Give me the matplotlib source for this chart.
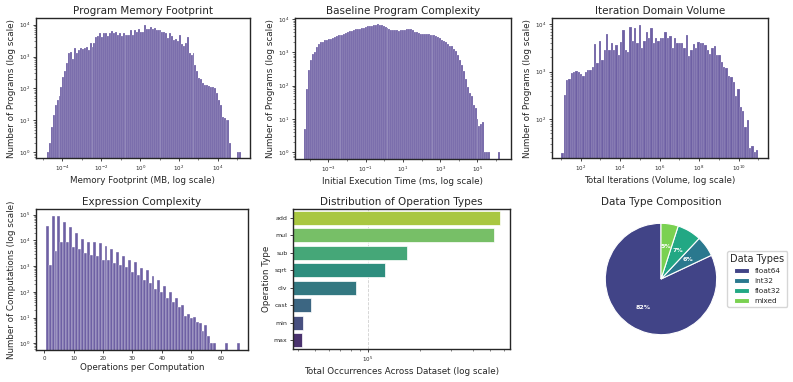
import numpy as np
import matplotlib
matplotlib.use("Agg")
import matplotlib.pyplot as plt
import matplotlib.ticker as mticker
import seaborn as sns

# ---- values ----
# Program memory footprint: counts per log bin (log10 MB from -4.8 to 5.19)
mem_counts = [1, 2, 6, 15, 30, 42, 57, 110, 230, 350,
              630, 1300, 1400, 830, 1900, 1300, 1600, 1900, 1700, 1800,
              2000, 1600, 2700, 2000, 2700, 4000, 4300, 5300, 4000, 5300,
              5600, 4300, 5300, 6300, 5300, 6100, 4600, 5300, 4300, 5300,
              4800, 4600, 4800, 6600, 4800, 6900, 5900, 7300, 5900, 5900,
              10000, 7300, 7300, 8200, 7300, 7800, 6900, 6600, 6600, 5900,
              5900, 5300, 3900, 5300, 4300, 3400, 3600, 3000, 4800, 2400,
              2100, 2700, 4000, 1300, 1100, 1300, 560, 350, 210, 200,
              150, 130, 125, 120, 115, 110, 100, 72, 45, 31,
              13, 12, 10, 10, 2, 0, 0, 0, 1, 1]
mem_range = (-4.8, 5.19)

# Baseline execution time: counts per log bin (log10 ms from -4.29 to 6.21)
time_counts = [5, 80, 300, 600, 900, 1000, 1400, 1800, 2000, 2100,
               2300, 2400, 2500, 2600, 2700, 2900, 3000, 3200, 3300, 3400,
               3500, 3700, 4100, 4300, 4500, 4700, 4900, 5000, 5100, 5200,
               5500, 5700, 6000, 6100, 6300, 6600, 6800, 6900, 6700, 6500,
               6000, 5700, 5300, 5000, 4800, 4700, 4600, 4600, 4500, 4800,
               4700, 4600, 4900, 5000, 4900, 4600, 4200, 4000, 3800, 3600,
               3500, 3500, 3600, 3500, 3400, 3300, 3200, 3100, 2900, 2700,
               2400, 2200, 2000, 1800, 1600, 1500, 1300, 1100, 850, 600,
               420, 270, 160, 90, 60, 48, 27, 21, 10, 6,
               7, 8, 1, 1, 1, 0, 0, 0, 0, 1]
time_range = (-4.29, 6.21)

# Iteration domain volume: counts per log bin (log10 iterations from 1.02 to 11.0)
iter_counts = [19, 320, 660, 700, 950, 1000, 1050, 1000, 900, 810,
               1000, 1100, 1100, 1270, 3800, 1550, 4500, 1750, 2900, 6200,
               2900, 4000, 2900, 3700, 2200, 4200, 7400, 2900, 2600, 8700,
               4500, 8200, 4000, 9700, 3200, 4500, 6900, 5200, 8200, 4000,
               5000, 4500, 5000, 5200, 7000, 5000, 5500, 3200, 5000, 4000,
               4000, 4000, 3200, 5800, 2100, 2900, 3800, 3100, 4300, 4000,
               4000, 3600, 2900, 2400, 3100, 3400, 2200, 2200, 1600, 1270,
               1170, 810, 760, 610, 300, 440, 180, 150, 67, 95,
               25, 27, 20, 22]
iter_range = (1.02, 11.0)

# Expression complexity: operations per computation 1..66
ops_per_comp = list(range(1, 67))
ops_counts = [37000, 1100, 87000, 4000, 87000, 8300, 52000, 8900, 33000, 5500,
              20000, 4500, 11000, 3200, 9000, 2800, 8500, 2500, 7900, 1800,
              5800, 1700, 4700, 1300, 3400, 1100, 2500, 900, 1700, 570,
              1400, 460, 870, 290, 720, 230, 400, 130, 280, 100,
              170, 60, 100, 40, 60, 25, 30, 12, 14, 10,
              11, 7, 6, 3, 5, 2, 1, 1, 0, 0,
              0, 1, 0, 0, 0, 1]

# Operation types
op_names = ["add", "mul", "sub", "sqrt", "div", "cast", "min", "max"]
op_totals = [573000, 530000, 168000, 126000, 86000, 47200, 42800, 42400]

# Data type composition (%)
dtype_names = ["float64", "int32", "float32", "mixed"]
dtype_share = [82, 6, 7, 5]

# ---- style ----
sns.set_theme(style="ticks")
plt.rcParams.update({
    "font.family": ["DejaVu Sans"],
    "axes.edgecolor": "#262626",
    "axes.linewidth": 1.0,
    "axes.titlesize": 7.5,
    "axes.titlepad": 3,
    "axes.labelsize": 6.3,
    "axes.labelpad": 2,
    "xtick.labelsize": 4,
    "ytick.labelsize": 4,
    "xtick.major.size": 2.5,
    "ytick.major.size": 2.5,
    "xtick.minor.size": 1.5,
    "ytick.minor.size": 1.5,
    "xtick.major.width": 0.6,
    "ytick.major.width": 0.6,
    "xtick.minor.width": 0.4,
    "ytick.minor.width": 0.4,
    "xtick.major.pad": 1.5,
    "ytick.major.pad": 1.5,
    "text.color": "#262626",
    "axes.labelcolor": "#262626",
})

BAR = "#5a4a98"
W, H = 793, 382


def px_axes(fig, left, top, right, bottom):
    return fig.add_axes([left / W, 1 - bottom / H, (right - left) / W, (bottom - top) / H])


def log_hist(ax, counts, rng, title, xlabel, ylabel, xlim, ylim, xticks, yticks):
    edges = np.logspace(rng[0], rng[1], len(counts) + 1)
    ax.bar(edges[:-1], counts, width=np.diff(edges), align="edge",
           color=BAR, alpha=0.88, edgecolor="white", linewidth=0.15)
    ax.set_xscale("log")
    ax.set_yscale("log")
    ax.set_xlim(10.0 ** xlim[0], 10.0 ** xlim[1])
    ax.set_ylim(10.0 ** ylim[0], 10.0 ** ylim[1])
    ax.set_xticks(xticks)
    ax.xaxis.set_minor_locator(mticker.LogLocator(base=10, subs=(1.0,), numticks=30))
    ax.xaxis.set_minor_formatter(mticker.NullFormatter())
    ax.set_yticks(yticks)
    ax.yaxis.set_minor_locator(mticker.LogLocator(base=10, subs=np.arange(2, 10), numticks=30))
    ax.yaxis.set_minor_formatter(mticker.NullFormatter())
    ax.set_title(title)
    ax.set_xlabel(xlabel)
    ax.set_ylabel(ylabel)


fig = plt.figure(figsize=(W / 100, H / 100), dpi=100)

ax1 = px_axes(fig, 36, 18, 250, 158)
log_hist(ax1, mem_counts, mem_range, "Program Memory Footprint",
         "Memory Footprint (MB, log scale)", "Number of Programs (log scale)",
         (-5.36, 5.65), (-0.18, 4.21), 10.0 ** np.arange(-4, 5, 2), 10.0 ** np.arange(0, 5))

ax2 = px_axes(fig, 295, 18, 511, 159)
log_hist(ax2, time_counts, time_range, "Baseline Program Complexity",
         "Initial Execution Time (ms, log scale)", "Number of Programs (log scale)",
         (-4.79, 6.80), (-0.2, 4.03), 10.0 ** np.arange(-3, 6, 2), 10.0 ** np.arange(0, 5))

ax3 = px_axes(fig, 552, 18, 768, 158)
log_hist(ax3, iter_counts, iter_range, "Iteration Domain Volume",
         "Total Iterations (Volume, log scale)", "Number of Programs (log scale)",
         (0.55, 11.49), (1.18, 4.13), 10.0 ** np.arange(2, 11, 2), 10.0 ** np.arange(2, 5))

# Expression complexity
ax4 = px_axes(fig, 36, 209, 248, 350)
ax4.bar(ops_per_comp, ops_counts, width=1.0, color=BAR, alpha=0.88,
        edgecolor="white", linewidth=0.3)
ax4.set_yscale("log")
ax4.set_xlim(-2.8, 69.3)
ax4.set_ylim(0.55, 1.66e5)
ax4.set_xticks(np.arange(0, 61, 10))
ax4.set_yticks(10.0 ** np.arange(0, 6))
ax4.yaxis.set_minor_locator(mticker.LogLocator(base=10, subs=np.arange(2, 10), numticks=30))
ax4.yaxis.set_minor_formatter(mticker.NullFormatter())
ax4.set_title("Expression Complexity")
ax4.set_xlabel("Operations per Computation")
ax4.set_ylabel("Number of Computations (log scale)")

# Operation types
ax5 = px_axes(fig, 293, 209, 510, 349)
op_colors = [sns.desaturate(c, 0.75) for c in sns.color_palette("viridis_r", len(op_names))]
ax5.barh(np.arange(len(op_names)), op_totals, height=0.8, left=1,
         color=op_colors, edgecolor="white", linewidth=0.5, zorder=2)
ax5.set_xscale("log")
ax5.set_xlim(3.75e4, 6.5e5)
ax5.set_ylim(len(op_names) - 0.5, -0.5)
ax5.set_yticks(np.arange(len(op_names)))
ax5.set_yticklabels(op_names)
ax5.tick_params(axis="y", labelsize=4.5)
ax5.xaxis.set_minor_formatter(mticker.NullFormatter())
ax5.grid(axis="x", which="major", linestyle="--", color="#d0d0d0", linewidth=0.6, zorder=0)
ax5.set_axisbelow(True)
ax5.set_title("Distribution of Operation Types")
ax5.set_xlabel("Total Occurrences Across Dataset (log scale)")
ax5.set_ylabel("Operation Type")

# Data type pie
ax6 = px_axes(fig, 591.4, 209.4, 730.6, 348.6)
wedges, _, autotexts = ax6.pie(
    dtype_share, colors=sns.color_palette("viridis", len(dtype_names)),
    autopct="%1.0f%%", startangle=90,
    wedgeprops=dict(edgecolor="white", linewidth=0.8),
    textprops=dict(color="white", fontsize=4.5, fontweight="bold"))
ax6.set_xlim(-1.25, 1.25)
ax6.set_ylim(-1.25, 1.25)
ax6.set_title("Data Type Composition")
ax6.legend(wedges, dtype_names, title="Data Types", loc="center left",
           bbox_to_anchor=(0.95, 0.5), fontsize=5.3, title_fontsize=7)

fig.savefig("out.png", dpi=100)
